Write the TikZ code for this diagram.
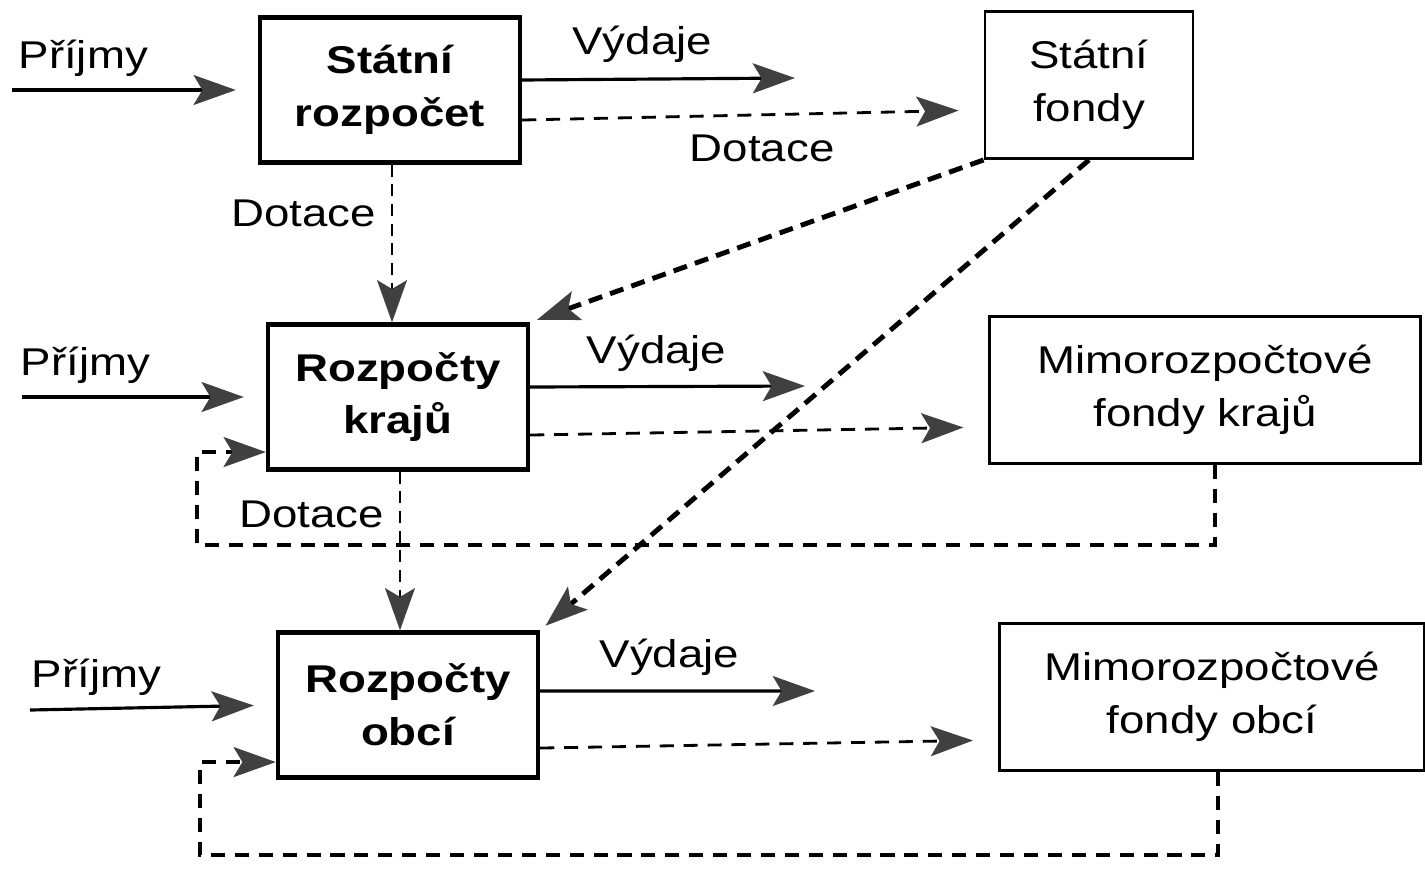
\documentclass[tikz,border=0pt]{standalone}
\usepackage{fontspec}
\setmainfont{Liberation Sans}[FakeStretch=1.18]
\usetikzlibrary{positioning,calc,arrows.meta}
\newcommand*{\txt}{\fontsize{11}{15}\selectfont}

\begin{document}
\begin{tikzpicture}[x=0.01cm,y=-0.01cm,font=\txt,
  >={Stealth[length=12pt,width=8.5pt,inset=2.5pt,black!75]},
  budget/.style={draw,line width=1.2pt,align=center,font=\txt\bfseries,
    minimum width=2.6cm,minimum height=1.45cm},
  fund/.style={draw,line width=0.8pt,align=center,minimum height=1.47cm},
  flow/.style={->,line width=0.9pt},
  grant/.style={->,line width=0.8pt,dash pattern=on 4pt off 2.8pt},
  thin grant/.style={->,line width=0.6pt,dash pattern=on 3.4pt off 2.2pt},
  fund grant/.style={->,line width=1.4pt,dash pattern=on 4pt off 2.4pt},
  loop/.style={->,line width=1.1pt,dash pattern=on 4pt off 2.8pt}]
\useasboundingbox (0,0) rectangle (1425,869);
% Budgets on the left, funds on the right
\node[budget] (sr) at (390,90)  {Státní\\rozpočet};
\node[budget] (rk) at (398,397) {Rozpočty\\krajů};
\node[budget] (ro) at (408,705) {Rozpočty\\obcí};
\node[fund,minimum width=2.08cm] (sf) at (1089,85)  {Státní\\fondy};
\node[fund,minimum width=4.3cm]  (mk) at (1205,390) {Mimorozpočtové\\fondy krajů};
\node[fund,minimum width=4.25cm] (mo) at (1212,697) {Mimorozpočtové\\fondy obcí};
% Loose ends of the income and spending arrows
\coordinate (in1) at (12,90);
\coordinate (in2) at (22,397);
\coordinate (in3) at (30,710);
\coordinate (out1) at (795,78);
\coordinate (out2) at (805,386);
\coordinate (out3) at (815,691);
% Corners of the two feedback loops
\coordinate (c2) at (197,545);
\coordinate (c3) at (200,855);
% Income
\draw[flow,shorten >=0.22cm] (in1) -- node[above=0pt,pos=0.29] {Příjmy} (sr.west);
\draw[flow,shorten >=0.22cm] (in2) -- node[above=0pt,pos=0.26] {Příjmy} (rk.west);
\draw[flow,shorten >=0.22cm] (in3) -- node[above=0pt,pos=0.27] {Příjmy} (ro.west);
% Spending
\draw[flow] ([yshift=0.1cm]sr.east) -- node[above=1pt,pos=0.44] {Výdaje} (out1);
\draw[flow] ([yshift=0.1cm]rk.east) -- node[above=0.5pt,pos=0.46] {Výdaje} (out2);
\draw[flow] ([yshift=0.14cm]ro.east) -- node[above=0.5pt,pos=0.47] {Výdaje} (out3);
% Transfers into funds
\draw[grant,shorten >=0.25cm] ([yshift=-0.3cm]sr.east) -- node[below=2pt,pos=0.52] {Dotace} ([yshift=-0.25cm]sf.west);
\draw[grant,shorten >=0.25cm] ([yshift=-0.38cm]rk.east) -- ([yshift=-0.37cm]mk.west);
\draw[grant,shorten >=0.25cm] ([yshift=-0.43cm]ro.east) -- ([yshift=-0.43cm]mo.west);
% Grants downwards
\draw[thin grant] ([xshift=0.02cm]sr.south) -- node[left=1pt,pos=0.31] {Dotace} ([xshift=0.02cm]sr.south |- rk.north);
\draw[thin grant] ([xshift=0.02cm]rk.south) -- node[left=1pt,pos=0.27] {Dotace} ([xshift=0.02cm]rk.south |- ro.north);
% From the state funds
\draw[fund grant,shorten >=2pt] (sf.south west) -- (rk.north east);
\draw[fund grant,shorten >=2pt] (sf.south) -- (ro.north east);
% Feedback loops
\draw[loop] ([xshift=0.1cm]mk.south) |- (c2) |- ([yshift=-0.55cm]rk.west);
\draw[loop] ([xshift=0.06cm]mo.south) |- (c3) |- ([yshift=-0.57cm]ro.west);
\end{tikzpicture}
\end{document}
